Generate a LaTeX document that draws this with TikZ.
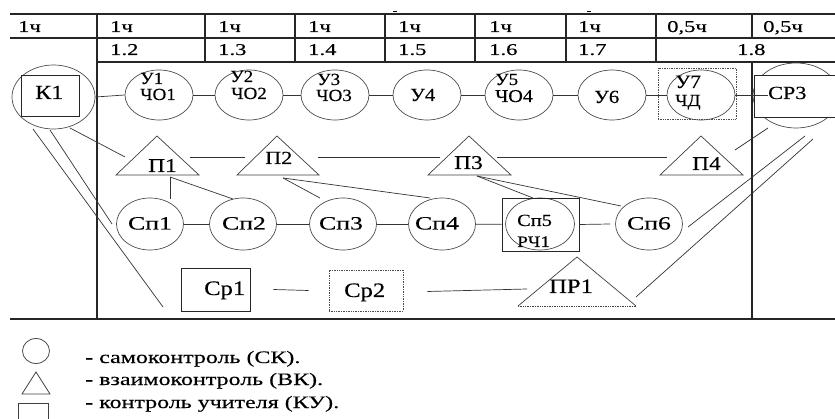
\documentclass[tikz,border=0pt]{standalone}
\usepackage{fontspec}
\setmainfont{Liberation Serif}
\newfontfamily\fA{Liberation Serif}[FakeStretch=1.12,FakeBold=0.3]
\newfontfamily\fB{Liberation Serif}[FakeStretch=1.2,FakeBold=0.3]
\newfontfamily\fC{Liberation Serif}[FakeStretch=1.37,FakeBold=0.3]
\usetikzlibrary{shapes.geometric}
\begin{document}
\begin{tikzpicture}[x=1pt,y=-1pt,
  tab/.style={draw=black!85, line width=1.2pt},
  ln/.style={draw=black!80, line width=0.7pt},
  ov/.style={draw=black!70, line width=0.7pt, ellipse, inner sep=0pt, minimum width=68pt, minimum height=50pt},
  sp/.style={draw=black!70, line width=0.7pt, ellipse, inner sep=0pt, minimum width=67pt, minimum height=52pt},
  box/.style={draw=black!85, line width=0.8pt, inner sep=0pt, rectangle},
  dbox/.style={draw=black!70, line width=0.7pt, densely dotted, inner sep=0pt, rectangle},
  tri/.style={draw=black!75, line width=0.7pt},
  tx/.style={inner sep=0pt, anchor=base west},
  tc/.style={inner sep=0pt, anchor=base},
  ht/.style={tx, font=\fC\fontsize{16.5}{17}\selectfont},
  ut/.style={tx, font=\fA\fontsize{17}{18}\selectfont},
  st/.style={tc, font=\fC\fontsize{18.8}{19}\selectfont},
  pt/.style={tx, font=\fB\fontsize{19.5}{20}\selectfont},
  lt/.style={tx, font=\fC\fontsize{17.5}{18}\selectfont}
]
\useasboundingbox (0,0) rectangle (835,419);
\fill[white] (0,0) rectangle (835,419);

% ---------- table ----------
\draw[tab] (10,14) -- (835,14);
\draw[tab] (10,38) -- (835,38);
\draw[tab] (97,62) -- (835,62);
\draw[tab] (10,319) -- (835,319);
\draw[tab] (97,14) -- (97,319);
\foreach \x in {205,295,385,475,566,656} \draw[tab] (\x,14) -- (\x,62);
\draw[tab] (752,14) -- (752,38);
\draw[tab] (752,62) -- (752,319);
\draw[line width=0.8pt] (393,11) -- (397,11);
\draw[line width=0.8pt] (587,11) -- (591,11);

\node[ht] (h0) at (18,32) {1ч};
\node[ht] (h1) at (110,32) {1ч};
\node[ht] (h2) at (218,32) {1ч};
\node[ht] (h3) at (308,32) {1ч};
\node[ht] (h4) at (398,32) {1ч};
\node[ht] (h5) at (489,32) {1ч};
\node[ht] (h6) at (578,32) {1ч};
\node[ht] (h7) at (667,32) {0,5ч};
\node[ht] (h8) at (763,32) {0,5ч};
\node[ht] (r2) at (110,55) {1.2};
\node[ht] (r3) at (218,55) {1.3};
\node[ht] (r4) at (308,55) {1.4};
\node[ht] (r5) at (398,55) {1.5};
\node[ht] (r6) at (489,55) {1.6};
\node[ht] (r7) at (578,55) {1.7};
\node[ht] (r8) at (737,55) {1.8};

% ---------- top row ----------
\node[ov, minimum width=83pt, minimum height=64pt] (k1o) at (53.5,97) {};
\node[box, minimum width=58pt, minimum height=41pt] (k1r) at (50,95.5) {};
\node[tx, font=\fB\fontsize{20}{20}\selectfont] (k1t) at (35,99) {К1};

\node[ov] (u1) at (159,95) {};
\node[ov] (u2) at (249,95) {};
\node[ov] (u3) at (335,95) {};
\node[ov] (u4) at (427,95) {};
\node[ov] (u5) at (519,95) {};
\node[ov] (u6) at (612,95) {};
\node[ov] (u7) at (701,95) {};
\node[dbox, minimum width=78pt, minimum height=51pt] (u7r) at (697,93.5) {};

\node[ut] (u1a) at (140,84) {У1};
\node[ut] (u1b) at (140,100) {ЧО1};
\node[ut] (u2a) at (230,82) {У2};
\node[ut] (u2b) at (231,99) {ЧО2};
\node[ut] (u3a) at (317,85) {У3};
\node[ut] (u3b) at (316,101) {ЧО3};
\node[ut, font=\fA\fontsize{18.5}{19}\selectfont] (u4a) at (410,101) {У4};
\node[ut] (u5a) at (495,85) {У5};
\node[ut, font=\fA\fontsize{18}{19}\selectfont] (u5b) at (495,102) {ЧО4};
\node[ut, font=\fA\fontsize{18.5}{19}\selectfont] (u6a) at (594,103) {У6};
\node[ut, font=\fA\fontsize{19}{19}\selectfont] (u7a) at (675,88) {У7};
\node[ut] (u7b) at (675,106) {ЧД};

\node[ellipse, draw=black!70, line width=0.7pt, minimum width=86pt, minimum height=65pt, inner sep=0pt] (cp3o) at (796,95.5) {};
\node[box, fill=white, minimum width=92pt, minimum height=42pt] (cp3r) at (800,96) {};
\node[tx, font=\fB\fontsize{18.5}{19}\selectfont] (cp3t) at (768,99) {СР3};

\draw[ln] (k1o.east) -- (u1.west);
\draw[ln] (u1) -- (u2);
\draw[ln] (u2) -- (u3);
\draw[ln] (u3) -- (u4);
\draw[ln] (u4) -- (u5);
\draw[ln] (u5) -- (u6);
\draw[ln] (u6) -- (u7);
\draw[ln] (u7.east) -- (u7.east -| cp3t.west);

% ---------- triangles ----------
\draw[tri] (157,136) coordinate (p1top) -- (199,175) -- (116,175) -- cycle;
\draw[tri] (277,136) coordinate (p2top) -- (319,175) -- (237,175) -- cycle;
\draw[tri] (469,136) coordinate (p3top) -- (511,175) -- (428,175) -- cycle;
\draw[tri] (701,136) coordinate (p4top) -- (743,175) -- (660,175) -- cycle;
\node[pt] (p1t) at (148,172) {П1};
\node[pt, font=\fB\fontsize{18.5}{19}\selectfont] (p2t) at (265,164) {П2};
\node[pt] (p3t) at (454,169) {П3};
\node[pt] (p4t) at (692,170) {П4};

\coordinate (p1e) at (190,157); \coordinate (p2w) at (245,157);
\coordinate (p2e) at (318,157); \coordinate (p3w) at (440,157);
\coordinate (p3e) at (497,157); \coordinate (p4w) at (667,157);
\draw[ln] (p1e) -- (p2w);
\draw[ln] (p2e) -- (p3w);
\draw[ln] (p3e) -- (p4w);

% ---------- Sp row ----------
\node[sp] (s1) at (150,224) {};
\node[sp] (s2) at (243,224) {};
\node[sp] (s3) at (343,224) {};
\node[sp] (s4) at (442,224) {};
\node[sp, minimum width=69pt] (s5) at (540,224) {};
\node[box, minimum width=77pt, minimum height=53pt] (s5r) at (540.5,224.5) {};
\node[sp] (s6) at (649,224) {};
\node[st] (s1t) at (150,229.5) {Сп1};
\node[st] (s2t) at (244,229.5) {Сп2};
\node[st] (s3t) at (341,229.5) {Сп3};
\node[st] (s4t) at (437,229.5) {Сп4};
\node[tx, font=\fB\fontsize{17}{17}\selectfont] (s5a) at (517,226) {Сп5};
\node[tx, font=\fB\fontsize{16}{16}\selectfont] (s5b) at (517,247) {РЧ1};
\node[st] (s6t) at (649,229.5) {Сп6};

\draw[ln] (s1) -- (s2);
\draw[ln] (s2) -- (s3);
\draw[ln] (s3) -- (s4);
\draw[ln] (s4) -- (s5r);
\draw[ln] (s5r.east) -- ([xshift=-5pt]s6.west);

\coordinate (p1b) at (170,177);
\draw[ln] (p1b) -- (170,199) coordinate (s1n);
\draw[ln] (p1b) -- (233,199) coordinate (s2n);
\coordinate (p2b) at (283,178);
\draw[ln] (p2b) -- (320,198) coordinate (s3n);
\draw[ln] (p2b) -- (430,198) coordinate (s4n);
\coordinate (p3b) at (477,176);
\draw[ln] (p3b) -- (533,198) coordinate (s5n);
\draw[ln] (p3b) -- (621,206) coordinate (s6n);

% ---------- bottom row ----------
\node[box, minimum width=69pt, minimum height=43pt] (cr1) at (215.5,289.5) {};
\node[dbox, minimum width=74pt, minimum height=41pt] (cr2) at (366,290.5) {};
\draw[tri] (518,306) -- (577,257) coordinate (prtop) -- (636,306);
\draw[tri, densely dotted] (518,306) -- (636,306);
\node[tx, font=\fB\fontsize{20.5}{21}\selectfont] (cr1t) at (204,295) {Ср1};
\node[tx, font=\fB\fontsize{20.5}{21}\selectfont] (cr2t) at (344,297) {Ср2};
\node[tx, font=\fB\fontsize{20.5}{21}\selectfont] (prt) at (549,293) {ПР1};
\draw[ln] ([xshift=23pt]cr1.east) -- ([xshift=-20pt]cr2.west);
\draw[ln] ([xshift=24pt,yshift=-1pt]cr2.east) -- (527,289) coordinate (prw);

% ---------- long lines ----------
\coordinate (k1a) at (70,128);  \coordinate (p1w) at (125,157);
\coordinate (k1b) at (50,130);  \coordinate (s1w) at (112,224);
\coordinate (k1c) at (33,129);  \coordinate (cr1w) at (163,307);
\draw[ln] (k1a) -- (p1w);
\draw[ln] (k1b) -- (s1w);
\draw[ln] (k1c) -- (cr1w);
\coordinate (c3a) at (768,128); \coordinate (p4e) at (735,150);
\coordinate (c3b) at (805,136); \coordinate (s6e) at (688,227);
\coordinate (c3c) at (813,139); \coordinate (pre) at (636,297);
\draw[ln] (c3a) -- (p4e);
\draw[ln] (c3b) -- (s6e);
\draw[ln] (c3c) -- (pre);

% ---------- legend ----------
\node[ellipse, draw=black!70, line width=0.8pt, minimum width=27pt, minimum height=25pt, inner sep=0pt] (lgc) at (36,351) {};
\draw[tri, line width=0.8pt] (36,372) -- (50,394) -- (22,394) -- cycle;
\draw[tri, line width=0.9pt] (18,421) -- (18,403) -- (48,403) -- (48,421);
\node[lt] (lg1) at (85,363) {- самоконтроль (СК).};
\node[lt] (lg2) at (85,385) {- взаимоконтроль (ВК).};
\node[lt] (lg3) at (85,408) {- контроль учителя (КУ).};
\end{tikzpicture}
\end{document}
